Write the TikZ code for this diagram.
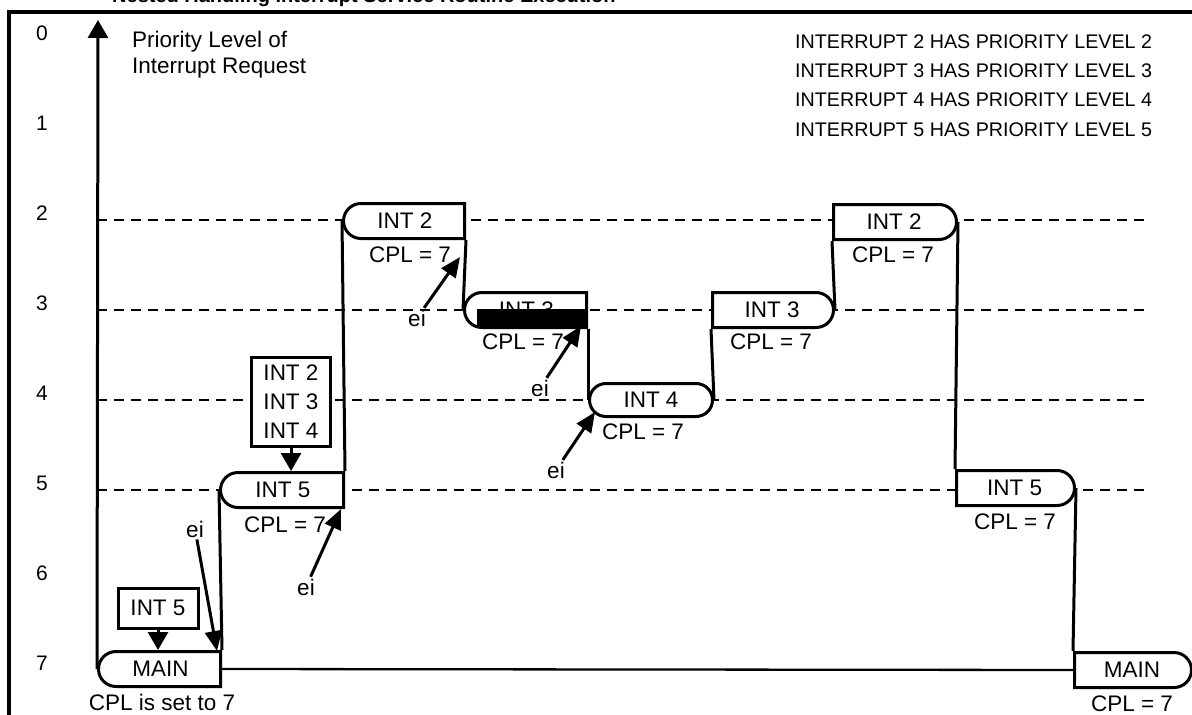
\documentclass[tikz,border=0pt]{standalone}
\usepackage{fontspec}
\setmainfont{Liberation Sans}
\usetikzlibrary{shapes.misc,arrows.meta}
\begin{document}
\begin{tikzpicture}[x=1pt,y=-1pt,
  lvl/.style={font=\fontsize{21}{24}\selectfont, inner sep=0pt},
  lab/.style={font=\fontsize{22.5}{26}\selectfont, inner sep=0pt},
  legend/.style={font=\fontsize{19.7}{22}\selectfont, inner sep=0pt, anchor=west},
  trace/.style={line width=3pt},
  levelline/.style={line width=2.8pt, dash pattern=on 9.5pt off 7.5pt},
  boxbase/.style={draw, line width=3pt, fill=white, rounded rectangle,
    minimum height=35pt, inner sep=0pt, font=\fontsize{22.5}{26}\selectfont},
  lbox/.style={boxbase, rounded rectangle east arc=none},
  rbox/.style={boxbase, rounded rectangle west arc=none},
  pbox/.style={boxbase},
  sqbox/.style={draw, rectangle, line width=3pt, fill=white, inner sep=0pt,
    font=\fontsize{22.5}{29}\selectfont, align=center},
  eiarrow/.style={line width=3pt, -{Triangle[length=20pt,width=17pt]}, shorten <=2pt},
  downarrow/.style={line width=3pt, -{Triangle[length=18pt,width=20pt]}},
]
\useasboundingbox (0,0) rectangle (1192,715);

% title, cut off at the top edge
\begin{scope}
  \clip (0,0) rectangle (1192,11);
  \node[font=\bfseries\fontsize{20}{24}\selectfont, inner sep=0pt, anchor=base west] (title) at (112,2.5) {Nested Handling Interrupt Service Routine Execution};
\end{scope}

% frame
\draw[line width=3.2pt] (9,715) -- (9,12) -- (1192,12);

% level numbers
\foreach \k in {0,...,7} {
  \node[lvl] (lv\k) at (42,{33+90*\k}) {\k};
}

% dashed priority lines
\foreach \yy in {220,310,400,490} {
  \draw[levelline] (97,\yy) -- (1150,\yy);
}

% axis labels and legend
\node[lab, anchor=base west] (pl1) at (132,47) {Priority Level of};
\node[lab, anchor=base west] (pl2) at (132,73) {Interrupt Request};
\node[legend] (lg2) at (795,42) {INTERRUPT 2 HAS PRIORITY LEVEL 2};
\node[legend] (lg3) at (795,71) {INTERRUPT 3 HAS PRIORITY LEVEL 3};
\node[legend] (lg4) at (795,100) {INTERRUPT 4 HAS PRIORITY LEVEL 4};
\node[legend] (lg5) at (795,130) {INTERRUPT 5 HAS PRIORITY LEVEL 5};

% execution boxes
\node[lbox, minimum width=122pt, anchor=east] (main1) at (222,669) {MAIN};
\node[lbox, minimum width=123pt, anchor=east] (int5a) at (345,490) {INT 5};
\node[lbox, minimum width=121pt, anchor=east] (int2a) at (466,221) {INT 2};
\node[lbox, minimum width=122pt, anchor=east] (int3a) at (588,310) {INT 3};
\node[pbox, minimum width=123pt, minimum height=33pt, anchor=west] (int4) at (588,400) {INT 4};
\node[rbox, minimum width=121pt, anchor=west] (int3b) at (711,310) {INT 3};
\node[rbox, minimum width=123pt, anchor=west] (int2b) at (832,222) {INT 2};
\node[rbox, minimum width=118pt, anchor=west] (int5b) at (955,488) {INT 5};
\node[rbox, minimum width=117pt, anchor=west] (main2) at (1073,670) {MAIN};

% black bar over INT 3
\fill (477,309) rectangle (588,328);

% trace
\draw[trace] (main1.north east) -- (int5a.west);
\draw[line width=2.3pt] (main1.east) -- (main2.west);
\draw[trace] (int5a.north east) -- (int2a.west);
\draw[trace] (int2a.south east) -- (int3a.west);
\draw[trace] (int3a.south east) -- (int4.west);
\draw[trace] (int4.east) -- (int3b.south west);
\draw[trace] (int3b.east) -- (int2b.south west);
\draw[trace] (int2b.east) -- (int5b.north west);
\draw[trace] (int5b.east) -- (main2.north west);

% axis
\coordinate (axistop) at (98,20);
\draw[line width=3pt, -{Triangle[length=18pt,width=20pt]}] (main1.west) -- (axistop);

% CPL labels
\node[lab] (c1) at (162,702) {CPL is set to 7};
\node[lab] (c2) at (285,525) {CPL = 7};
\node[lab] (c3) at (410,255) {CPL = 7};
\node[lab] (c4) at (523,342) {CPL = 7};
\node[lab] (c5) at (643,432) {CPL = 7};
\node[lab] (c6) at (771,342) {CPL = 7};
\node[lab] (c7) at (893,255) {CPL = 7};
\node[lab] (c8) at (1015,522) {CPL = 7};
\node[lab] (c9) at (1132,704) {CPL = 7};

% pending interrupt boxes
\node[sqbox, minimum width=80pt, minimum height=40pt] (p5) at (158,608) {INT 5};
\draw[downarrow] (p5.south) -- (p5.south |- main1.north);
\node[sqbox, minimum width=79pt, minimum height=89pt] (p234) at (291,402) {INT 2\\INT 3\\INT 4};
\draw[downarrow] (p234.south) -- (p234.south |- int5a.north);

% ei arrows
\coordinate (t1) at (217,651);
\coordinate (t2) at (341,509);
\coordinate (t3) at (460,257);
\coordinate (t4) at (581,326);
\coordinate (t5) at (595,412);
\node[lab] (ei1) at (195,529) {ei};
\node[lab] (ei2) at (306,587) {ei};
\node[lab] (ei3) at (417,318) {ei};
\node[lab] (ei4) at (540,388) {ei};
\node[lab] (ei5) at (556,470) {ei};
\draw[eiarrow] (ei1) -- (t1);
\draw[eiarrow] (ei2) -- (t2);
\draw[eiarrow] (ei3) -- (t3);
\draw[eiarrow] (ei4) -- (t4);
\draw[eiarrow] (ei5) -- (t5);
\end{tikzpicture}
\end{document}
